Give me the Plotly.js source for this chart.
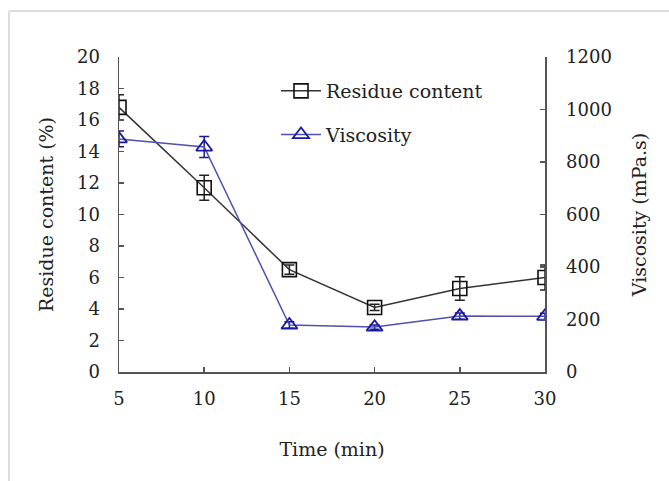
<!DOCTYPE html>
<html><head><meta charset="utf-8">
<script src="https://cdn.plot.ly/plotly-3.0.1.min.js"></script>
<style>html,body{margin:0;padding:0;background:#fff;}#chart{width:669px;height:481px;}</style>
</head><body><div id="chart"></div>
<script>
const time = [5, 10, 15, 20, 25, 30];
const residue = [16.8, 11.7, 6.5, 4.1, 5.3, 6.0];
const residueErr = [0.8, 0.8, 0.3, 0.2, 0.75, 0.8];
const viscosity = [888, 857, 179, 171, 213, 212];
const viscosityErr = [30, 40, 12, 8, 12, 12];
const xTicks = [5, 10, 15, 20, 25, 30];

const L = 119, R = 545, T = 57, B = 372, W = 669, H = 481;
const px = x => (x - L) / (R - L);
const py = y => (B - y) / (B - T);

const fam = '"DejaVu Serif", "Liberation Serif", serif';
const tickFont = {family: fam, size: 18, color: '#222'};
const titleFont = {family: fam, size: 19, color: '#222'};

const traces = [
  {x: time, y: residue, name: 'Residue content', type: 'scatter', mode: 'lines+markers',
   legendgroup: 'a',
   line: {color: '#333333', width: 1.5},
   marker: {symbol: 'square-open', size: 14, color: '#111111', line: {width: 1.6, color: '#111111'}},
   error_y: {type: 'data', array: residueErr, visible: true, color: '#222222', thickness: 1.5, width: 5}},
  {x: time, y: viscosity, name: 'Viscosity', type: 'scatter', mode: 'lines+markers', yaxis: 'y2',
   legendgroup: 'b',
   line: {color: '#5050b0', width: 1.5},
   marker: {symbol: 'triangle-up-open', size: 14, color: '#1a1aa0', line: {width: 1.8, color: '#1a1aa0'}},
   error_y: {type: 'data', array: viscosityErr, visible: true, color: '#1a1a90', thickness: 1.5, width: 5}}
];

const layout = {
  width: W, height: H,
  margin: {l: L, r: W - R, t: T, b: H - B},
  paper_bgcolor: '#fff', plot_bgcolor: '#fff',
  font: tickFont,
  showlegend: true,
  legend: {x: px(276), y: py(72), xanchor: 'left', yanchor: 'top', bgcolor: 'rgba(0,0,0,0)',
           font: titleFont, tracegroupgap: 16, itemwidth: 40},
  xaxis: {range: [5, 30], tickvals: xTicks, ticks: 'inside', ticklen: 5, tickcolor: '#555', tickwidth: 1.5,
          showline: true, linecolor: '#555', linewidth: 1.5, showgrid: false, zeroline: false,
          ticklabelstandoff: 10, tickfont: tickFont,
          title: {text: 'Time (min)', font: titleFont, standoff: 34}},
  yaxis: {range: [0, 20], dtick: 2, ticks: 'inside', ticklen: 5, tickcolor: '#555', tickwidth: 1.5,
          showline: true, linecolor: '#555', linewidth: 1.5, showgrid: false, zeroline: false,
          ticklabelstandoff: 14, tickfont: tickFont,
          title: {text: 'Residue content (%)', font: titleFont, standoff: 18}},
  yaxis2: {range: [0, 1200], dtick: 200, overlaying: 'y', side: 'right', ticks: 'inside', ticklen: 5,
           tickcolor: '#555', tickwidth: 1.5, showline: true, linecolor: '#555', linewidth: 1.5,
           showgrid: false, zeroline: false, ticklabelstandoff: 16, tickfont: tickFont,
           title: {text: 'Viscosity (mPa.s)', font: titleFont, standoff: 22}},
  shapes: [
    {type: 'line', xref: 'paper', yref: 'paper', x0: px(9), x1: px(9), y0: py(11), y1: py(481), line: {color: '#dddddd', width: 2}},
    {type: 'line', xref: 'paper', yref: 'paper', x0: px(9), x1: px(669), y0: py(11), y1: py(11), line: {color: '#dddddd', width: 2}}
  ]
};

Plotly.newPlot('chart', traces, layout, {displayModeBar: false, staticPlot: true});
</script>
</body></html>
